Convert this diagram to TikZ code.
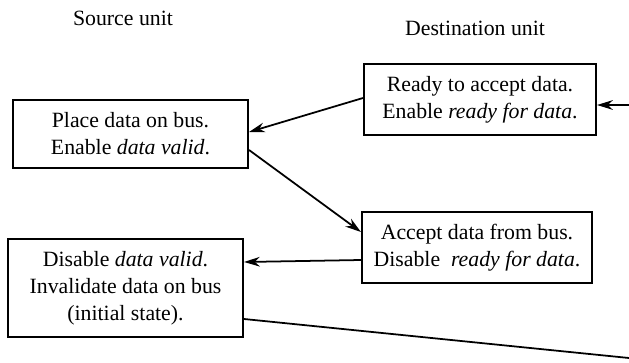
\documentclass[tikz,border=0pt]{standalone}
\usepackage{fontspec}
\setmainfont{Liberation Serif}
\usetikzlibrary{arrows.meta,calc}

\begin{document}
\begin{tikzpicture}[x=0.02cm, y=-0.02cm,
  stepbox/.style={draw, line width=1.2pt, align=center, inner sep=1pt, font=\fontsize{12.4}{15.4}\selectfont},
  link/.style={line width=1pt, -{Stealth[length=9pt, width=5.5pt]}},
  unitlabel/.style={font=\fontsize{12.4}{14}\selectfont}]
  \useasboundingbox (0,0) rectangle (629,362);
  % column headings
  \node[unitlabel] (srchead) at (123,18) {Source unit};
  \node[unitlabel] (dsthead) at (475,28) {Destination unit};
  % destination side
  \node[stepbox, minimum width=4.64cm, minimum height=1.42cm] (ready) at (480,99.5) {Ready to accept data.\\Enable \textit{ready for data}.};
  \node[stepbox, minimum width=4.6cm, minimum height=1.42cm] (accept) at (477,247.5) {Accept data from bus.\\Disable \ \textit{ready for data}.};
  % source side
  \node[stepbox, minimum width=4.7cm, minimum height=1.36cm] (place) at (130.5,134) {Place data on bus.\\Enable \textit{data valid}.};
  \node[stepbox, minimum width=4.7cm, minimum height=1.96cm] (disable) at (125.5,288) {Disable \textit{data valid}.\\Invalidate data on bus\\(initial state).};
  % loop ends at the right border
  \coordinate (loopout) at (629,358);
  \coordinate (loopin) at (629,105);
  % handshake
  \draw[link] ($(ready.west)+(0,-1.5)$) -- ($(place.east)+(0,-2)$);
  \draw[link] ($(place.east)+(0,16)$) -- ($(accept.west)+(0,-15.5)$);
  \draw[link] ($(accept.west)+(0,12.5)$) -- ($(disable.east)+(0,-26)$);
  \draw[line width=1pt] ($(disable.east)+(0,31)$) -- (loopout);
  \draw[link] (loopin) -- ($(ready.east)+(0,5.5)$);
\end{tikzpicture}
\end{document}
